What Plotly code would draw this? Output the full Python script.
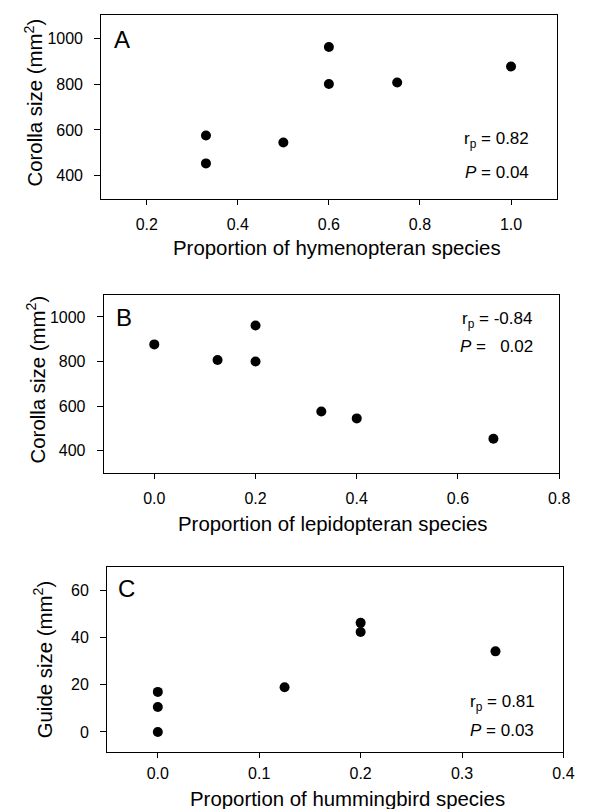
import plotly.graph_objects as go

# ---- data ----
hymen_prop = [0.33, 0.33, 0.5, 0.6, 0.6, 0.75, 1.0]
corolla_A = [576, 454, 545, 962, 800, 807, 877]

lepid_prop = [0.0, 0.125, 0.2, 0.2, 0.33, 0.4, 0.67]
corolla_B = [877, 807, 962, 800, 576, 545, 454]

humm_prop = [0.0, 0.0, 0.0, 0.125, 0.2, 0.2, 0.333]
guide_C = [17, 10.6, 0, 19, 46.3, 42.4, 34.2]

x_ticks_A = [0.2, 0.4, 0.6, 0.8, 1.0]
x_ticks_B = [0.0, 0.2, 0.4, 0.6, 0.8]
x_ticks_C = [0.0, 0.1, 0.2, 0.3, 0.4]
y_ticks_AB = [400, 600, 800, 1000]
y_ticks_C = [0, 20, 40, 60]

x_titles = ["Proportion of hymenopteran species",
            "Proportion of lepidopteran species",
            "Proportion of hummingbird species"]
y_titles = ["Corolla size (mm<sup>2</sup>)",
            "Corolla size (mm<sup>2</sup>)",
            "Guide size (mm<sup>2</sup>)"]
panel_letters = ["A", "B", "C"]
stat_lines = [
    ("r<sub>p</sub> = 0.82", "<i>P</i> = 0.04"),
    ("r<sub>p</sub> = -0.84", "<i>P</i> =\u00a0\u00a0 0.02"),
    ("r<sub>p</sub> = 0.81", "<i>P</i> = 0.03"),
]

W, H = 589, 809
FONT = "Arial, Liberation Sans, sans-serif"

def px_x(v):
    return v / W

def px_y(v):
    return 1 - v / H

fig = go.Figure()
marker = dict(color="black", size=10, line=dict(width=0))
fig.add_trace(go.Scatter(x=hymen_prop, y=corolla_A, mode="markers", marker=marker, xaxis="x", yaxis="y", showlegend=False))
fig.add_trace(go.Scatter(x=lepid_prop, y=corolla_B, mode="markers", marker=marker, xaxis="x2", yaxis="y2", showlegend=False))
fig.add_trace(go.Scatter(x=humm_prop, y=guide_C, mode="markers", marker=marker, xaxis="x3", yaxis="y3", showlegend=False))

panels = [
    dict(x0=95, x1=559, y0=7.3, y1=190.7),
    dict(x0=97.5, x1=561.7, y0=286.7, y1=465),
    dict(x0=101, x1=566, y0=559, y1=744),
]

def xaxis(dom, rng, ticks, anchor, standoff=6):
    return dict(domain=[px_x(dom["x0"]), px_x(dom["x1"])], range=rng, tickvals=ticks,
                tickformat=".1f", showline=True, linecolor="black", linewidth=1, mirror=True,
                ticks="outside", ticklen=5, tickcolor="black", showgrid=False, zeroline=False,
                ticklabelstandoff=standoff,
                tickfont=dict(family=FONT, size=16, color="black"), anchor=anchor)

def yaxis(dom, rng, ticks, anchor):
    return dict(domain=[px_y(dom["y1"]), px_y(dom["y0"])], range=rng, tickvals=ticks,
                showline=True, linecolor="black", linewidth=1, mirror=True,
                ticks="outside", ticklen=6, tickcolor="black", showgrid=False, zeroline=False,
                ticklabelstandoff=8,
                tickfont=dict(family=FONT, size=16, color="black"), anchor=anchor)

fig.update_layout(
    width=W, height=H, margin=dict(l=0, r=0, t=0, b=0),
    paper_bgcolor="white", plot_bgcolor="white",
    font=dict(family=FONT, color="black"),
    xaxis=xaxis(panels[0], [0.1, 1.1], x_ticks_A, "y"),
    yaxis=yaxis(panels[0], [300, 1100], y_ticks_AB, "x"),
    xaxis2=xaxis(panels[1], [-0.1, 0.8], x_ticks_B, "y2"),
    yaxis2=yaxis(panels[1], [300, 1100], y_ticks_AB, "x2"),
    xaxis3=xaxis(panels[2], [-0.05, 0.4], x_ticks_C, "y3", standoff=2),
    yaxis3=yaxis(panels[2], [-8.5, 70], y_ticks_C, "x3"),
)

ann = []
letter_pos = [(106, 31.5), (108, 309), (110, 580)]
xtitle_pos = [(335, 240), (330.5, 516), (346, 791)]
ytitle_pos = [(26, 95), (29, 371), (36, 651)]
stat_pos = [((533, 132), (533, 165)), ((536, 312), (537, 338)), ((539, 695), (538, 722))]

for i in range(3):
    lx, ly = letter_pos[i]
    ann.append(dict(text=panel_letters[i], x=px_x(lx), y=px_y(ly), xref="paper", yref="paper",
                    xanchor="left", yanchor="middle", showarrow=False,
                    font=dict(family=FONT, size=24, color="black")))
    tx, ty = xtitle_pos[i]
    ann.append(dict(text=x_titles[i], x=px_x(tx), y=px_y(ty), xref="paper", yref="paper",
                    xanchor="center", yanchor="middle", showarrow=False,
                    font=dict(family=FONT, size=20.4, color="black")))
    yx, yy = ytitle_pos[i]
    ann.append(dict(text=y_titles[i], x=px_x(yx), y=px_y(yy), xref="paper", yref="paper",
                    xanchor="center", yanchor="middle", showarrow=False, textangle=-90,
                    font=dict(family=FONT, size=20.4, color="black")))
    for txt, (rx, cy) in zip(stat_lines[i], stat_pos[i]):
        ann.append(dict(text=txt, x=px_x(rx), y=px_y(cy), xref="paper", yref="paper",
                        xanchor="right", yanchor="middle", showarrow=False,
                        font=dict(family=FONT, size=17, color="black")))
fig.update_layout(annotations=ann)

fig.write_html("out.html")
